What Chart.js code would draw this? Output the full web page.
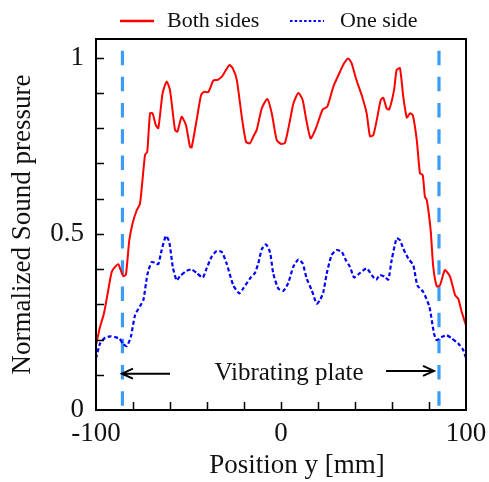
<!DOCTYPE html>
<html>
<head>
<meta charset="utf-8">
<script src="https://cdn.jsdelivr.net/npm/chart.js@4.4.1/dist/chart.umd.min.js"></script>
<style>
    html, body { margin: 0; padding: 0; background: #ffffff; }
    #wrap { width: 489px; height: 482px; }
</style>
</head>
<body>
<div id="wrap"><canvas id="soundChart"></canvas></div>
<script>
// Measured sound pressure, both sides vibrating
const bothSidesX = [-100, -97.8, -95.7, -93.4, -91.5, -89.7, -87.9, -87, -85.2, -83.8, -82, -80.2, -78, -76.2,
    -73.5, -72.3, -70.8, -69.4, -67.7, -66.3, -64, -61.8, -60, -57.3, -56, -53.7, -51.4, -49.2, -48.3, -45.6,
    -43.2, -41.6, -39.3, -36.6, -34.2, -32, -30.3, -27.9, -26.1, -23.9, -21.2, -18.9, -16.8, -14.6, -13.1,
    -10.4, -7.4, -5, -2.3, 0.2, 2.2, 4.9, 6.7, 9.4, 11.7, 13.5, 16, 18.9, 22.5, 25, 28.3, 31.9, 34.1, 36.4,
    38.2, 40.5, 43.6, 46.3, 48.1, 49.9, 52.1, 53.9, 55.3, 57.1, 58.5, 61.1, 62.5, 64.3, 66.1, 68, 69.7, 71.2,
    73.4, 75.1, 76.6, 77.8, 78.8, 80.9, 82.3, 84.2, 85.9, 88.6, 91.4, 94.1, 95.8, 97.7, 100];
const bothSidesY = [0.184, 0.236, 0.274, 0.34, 0.392, 0.406, 0.414, 0.402, 0.38, 0.385, 0.482, 0.53, 0.567, 0.586,
    0.724, 0.733, 0.842, 0.842, 0.809, 0.8, 0.899, 0.932, 0.908, 0.795, 0.79, 0.832, 0.809, 0.747, 0.745, 0.823,
    0.894, 0.903, 0.902, 0.935, 0.937, 0.946, 0.96, 0.979, 0.97, 0.937, 0.832, 0.761, 0.757, 0.78, 0.795,
    0.856, 0.883, 0.842, 0.766, 0.755, 0.759, 0.823, 0.87, 0.9, 0.88, 0.828, 0.771, 0.8, 0.853, 0.861, 0.918, 0.96, 0.984, 0.998,
    0.984, 0.941, 0.894, 0.842, 0.777, 0.78, 0.832, 0.88, 0.886, 0.856, 0.853, 0.908, 0.965, 0.97, 0.889, 0.83, 0.842, 0.837,
    0.766, 0.672, 0.667, 0.605, 0.596, 0.51, 0.406, 0.351, 0.354, 0.397, 0.378, 0.326, 0.316, 0.278, 0.24];

// One side vibrating
const oneSideX = [-100, -97.8, -95.1, -92.4, -89.7, -87.4, -85.2, -83.4, -81.2, -78.9, -76.2, -74.4, -72.2, -69.9,
    -67.6, -66.3, -64.5, -62.2, -60.4, -58.5, -56.4, -54.6, -51, -48.3, -45.6, -42.3, -40.2, -37.5, -34.8, -32.1,
    -29.4, -25.8, -22.5, -20.4, -16.8, -14.1, -12.3, -10.4, -8.1, -5.9, -4.2, -1.5, 1.2, 3.9, 6.6, 9.4, 11.7,
    13.9, 16.6, 19.3, 21.1, 22.9, 24.7, 27.4, 30.1, 32.8, 35.1, 37.3, 39.5, 41.8, 46.3, 49, 51.4, 53.5, 56.2, 58,
    59.8, 62.5, 64.3, 66.1, 68.8, 71.5, 73.7, 76.9, 80.2, 82.7, 84.2, 86.9, 89.6, 92.3, 95.8, 98.5, 100];
const oneSideY = [0.146, 0.189, 0.205, 0.209, 0.207, 0.203, 0.187, 0.181, 0.207, 0.269, 0.295, 0.312, 0.385, 0.42,
    0.416, 0.414, 0.454, 0.494, 0.477, 0.406, 0.368, 0.38, 0.395, 0.399, 0.389, 0.376, 0.402, 0.435, 0.451, 0.449,
    0.416, 0.354, 0.331, 0.345, 0.373, 0.389, 0.416, 0.456, 0.47, 0.447, 0.388, 0.345, 0.338, 0.36, 0.406, 0.427, 0.416,
    0.373, 0.34, 0.302, 0.312, 0.335, 0.387, 0.44, 0.454, 0.449, 0.425, 0.406, 0.376, 0.385, 0.402, 0.383, 0.37, 0.383, 0.378, 0.37,
    0.425, 0.487, 0.482, 0.458, 0.43, 0.411, 0.354, 0.335, 0.293, 0.217, 0.198, 0.207, 0.212, 0.203, 0.189, 0.17, 0.148];

// Plate edges (dashed markers) and annotation
const plateEdges = [-85.7, 85.4];
const plateLineTop = 1.02;
const plateLabel = 'Vibrating plate';
const plateLabelPos = { x: 4.3, y: 0.103 };
const leftArrow = { from: -60, to: -86, y: 0.103 };
const rightArrow = { from: 56.8, to: 82.7, y: 0.111 };

// Axes
const xMin = -100, xMax = 100;
const yMin = 0, yMax = 1.053;
const xTickValues = [-100, -80, -60, -40, -20, 0, 20, 40, 60, 80, 100];
const xTickLabels = { '-100': '-100', '0': '0', '100': '100' };
const yTickValues = [0, 0.1, 0.2, 0.3, 0.4, 0.5, 0.6, 0.7, 0.8, 0.9, 1];
const yTickLabels = { '0': '0', '0.5': '0.5', '1': '1' };
const xTitle = 'Position y [mm]';
const yTitle = 'Normalized Sound pressure';

const serif = "'Liberation Serif', 'Times New Roman', serif";
Chart.defaults.font.family = serif;
Chart.defaults.color = '#111111';

const toPoints = (xs, ys) => xs.map((x, i) => ({ x: x, y: ys[i] }));

const datasets = [
    {
        label: 'Both sides',
        data: toPoints(bothSidesX, bothSidesY),
        borderColor: '#ff0000',
        borderWidth: 2,
        pointRadius: 0,
        tension: 0.2
    },
    {
        label: 'One side',
        data: toPoints(oneSideX, oneSideY),
        borderColor: '#0000ff',
        borderWidth: 2.2,
        borderDash: [4, 2.5],
        pointRadius: 0,
        tension: 0.2
    }
];
plateEdges.forEach(x => {
    datasets.push({
        label: 'plate',
        data: [{ x: x, y: plateLineTop }, { x: x, y: 0 }],
        borderColor: '#3a9cf5',
        borderWidth: 3.2,
        borderDash: [14.5, 11.7],
        pointRadius: 0
    });
});

// frame, inward ticks, x title, legend and the plate annotation
const decorPlugin = {
    id: 'decor',
    afterDraw(chart) {
        const { ctx, chartArea: a, scales } = chart;
        const xs = scales.x, ys = scales.y;
        ctx.save();

        // ticks
        ctx.strokeStyle = '#000';
        ctx.lineWidth = 1.5;
        ctx.beginPath();
        xTickValues.forEach(v => {
            if (v === xMin || v === xMax) return;
            const px = Math.round(xs.getPixelForValue(v)) + 0.5;
            ctx.moveTo(px, a.bottom);
            ctx.lineTo(px, a.bottom - 8);
        });
        yTickValues.forEach(v => {
            if (v === yMin) return;
            const py = Math.round(ys.getPixelForValue(v)) + 0.5;
            ctx.moveTo(a.left, py);
            ctx.lineTo(a.left + 8, py);
        });
        ctx.stroke();

        // frame
        ctx.lineWidth = 2;
        ctx.strokeRect(a.left, a.top, a.right - a.left, a.bottom - a.top);

        // annotation arrows
        const arrow = (fromV, toV, yV) => {
            const x1 = xs.getPixelForValue(fromV), x2 = xs.getPixelForValue(toV);
            const y = ys.getPixelForValue(yV);
            const dir = Math.sign(x2 - x1);
            ctx.beginPath();
            ctx.moveTo(x1, y);
            ctx.lineTo(x2, y);
            ctx.moveTo(x2 - dir * 11, y - 5);
            ctx.lineTo(x2, y);
            ctx.lineTo(x2 - dir * 11, y + 5);
            ctx.stroke();
        };
        ctx.lineWidth = 2;
        arrow(leftArrow.from, leftArrow.to, leftArrow.y);
        arrow(rightArrow.from, rightArrow.to, rightArrow.y);

        ctx.fillStyle = '#111';
        ctx.font = '25px ' + serif;
        ctx.textAlign = 'center';
        ctx.textBaseline = 'middle';
        ctx.fillText(plateLabel, xs.getPixelForValue(plateLabelPos.x), ys.getPixelForValue(plateLabelPos.y));

        // x axis title, a bit right of centre as in the original
        ctx.font = '27px ' + serif;
        ctx.fillText(xTitle, (a.left + a.right) / 2 + 16, a.bottom + 56);

        // legend
        const items = chart.data.datasets.slice(0, 2);
        const legendY = 21;
        const samples = [{ x: 120, tx: 167 }, { x: 290, tx: 340 }];
        ctx.font = '22px ' + serif;
        ctx.textAlign = 'left';
        items.forEach((ds, i) => {
            const s = samples[i];
            ctx.strokeStyle = ds.borderColor;
            ctx.lineWidth = i === 0 ? 2.5 : 2.2;
            ctx.setLineDash(i === 0 ? [] : [2.5, 2.2]);
            ctx.beginPath();
            ctx.moveTo(s.x, legendY);
            ctx.lineTo(s.x + 34, legendY);
            ctx.stroke();
            ctx.setLineDash([]);
            ctx.fillText(ds.label, s.tx, legendY);
        });

        ctx.restore();
    }
};

new Chart(document.getElementById('soundChart'), {
    type: 'line',
    data: { datasets },
    plugins: [decorPlugin],
    options: {
        responsive: true,
        maintainAspectRatio: false,
        animation: false,
        layout: { padding: { top: 39, right: 23, left: 0, bottom: 0 } },
        plugins: {
            legend: { display: false },
            tooltip: { enabled: false }
        },
        scales: {
            x: {
                type: 'linear',
                min: xMin,
                max: xMax,
                afterBuildTicks: s => { s.ticks = xTickValues.map(v => ({ value: v })); },
                afterFit: s => { s.height = 72; s.paddingLeft = 0; s.paddingRight = 0; },
                ticks: {
                    autoSkip: false,
                    maxRotation: 0,
                    padding: 8,
                    color: '#111',
                    font: { size: 27 },
                    callback: v => xTickLabels[String(v)] || ''
                },
                grid: { drawOnChartArea: false, drawTicks: false },
                border: { display: false },
                title: { display: false }
            },
            y: {
                type: 'linear',
                min: yMin,
                max: yMax,
                afterBuildTicks: s => { s.ticks = yTickValues.map(v => ({ value: v })); },
                afterFit: s => { s.width = 96; s.paddingTop = 0; s.paddingBottom = 0; },
                ticks: {
                    autoSkip: false,
                    padding: 12,
                    color: '#111',
                    font: { size: 27 },
                    callback: v => yTickLabels[String(Math.round(v * 10) / 10)] || ''
                },
                grid: { drawOnChartArea: false, drawTicks: false },
                border: { display: false },
                title: {
                    display: true,
                    text: yTitle,
                    color: '#111',
                    font: { size: 27 },
                    padding: { top: 7, bottom: 0 }
                }
            }
        }
    }
});
</script>
</body>
</html>
